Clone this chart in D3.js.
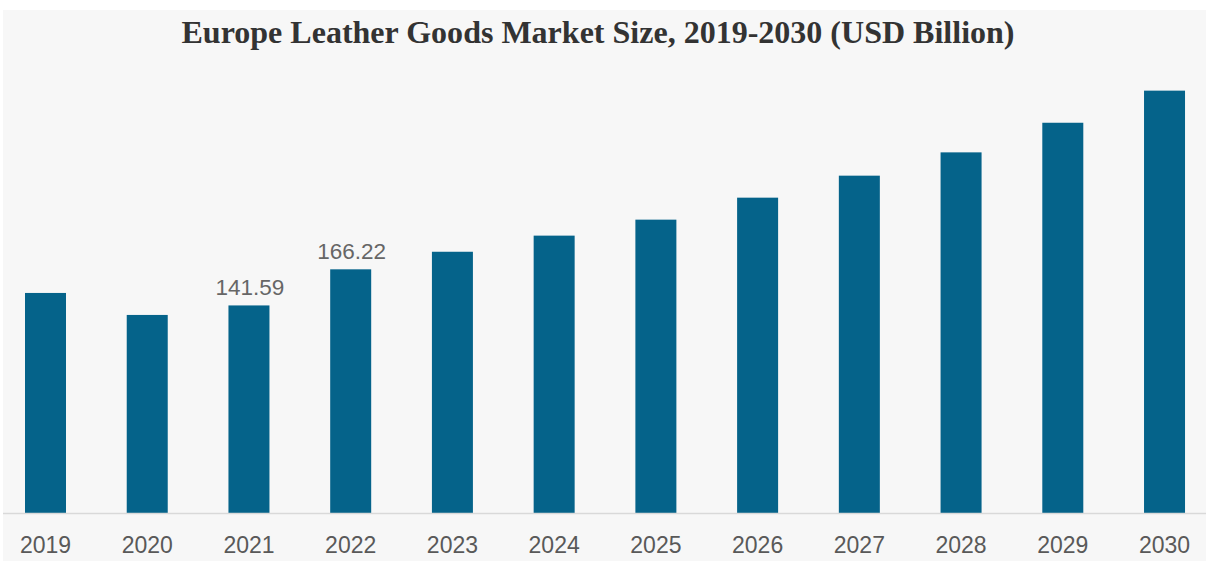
<!DOCTYPE html>
<html>
<head>
<meta charset="utf-8">
<script src="https://cdn.jsdelivr.net/npm/d3@7"></script>
<style>
  html, body { margin: 0; padding: 0; background: #ffffff; }
  svg { display: block; }
</style>
</head>
<body>
<svg id="chart" width="1206" height="561"></svg>
<script>
// Market size by year, USD billion
const years = ["2019", "2020", "2021", "2022", "2023", "2024", "2025", "2026", "2027", "2028", "2029", "2030"];
const values = [150.1, 135.1, 141.59, 166.22, 178.2, 189.2, 200.1, 215.1, 230.1, 246.0, 266.2, 288.1];
// Only these years carry a value label
const labelledYears = ["2021", "2022"];
const titleText = "Europe Leather Goods Market Size, 2019-2030 (USD Billion)";

const W = 1206, H = 561;
const svg = d3.select("#chart");

// light panel behind the chart
svg.append("rect")
  .attr("x", 3).attr("y", 10)
  .attr("width", W - 3).attr("height", H - 10)
  .attr("fill", "#f7f7f7");

const baseY = 513;
const step = 101.73;
const x = d3.scaleBand()
  .domain(years)
  .range([45.5 - step / 2, 45.5 - step / 2 + step * years.length])
  .paddingInner(0.597)
  .paddingOuter(0.2985);

const y = d3.scaleLinear()
  .domain([0, 300])
  .range([baseY, baseY - 300 * 1.466]);

// bars
svg.append("g")
  .selectAll("rect")
  .data(years)
  .join("rect")
  .attr("x", d => x(d))
  .attr("y", (d, i) => y(values[i]))
  .attr("width", x.bandwidth())
  .attr("height", (d, i) => y(0) - y(values[i]))
  .attr("fill", "#05638a");

// baseline axis with year labels
const xAxis = d3.axisBottom(x).tickSize(0).tickPadding(24);
const gx = svg.append("g")
  .attr("transform", `translate(0,${baseY})`)
  .call(xAxis);
gx.select(".domain").remove();
gx.selectAll("text")
  .attr("font-family", "'Liberation Sans', Arial, sans-serif")
  .attr("font-size", 23)
  .attr("fill", "#595959");

svg.append("line")
  .attr("x1", 3).attr("x2", W)
  .attr("y1", baseY + 0.5).attr("y2", baseY + 0.5)
  .attr("stroke", "#d9d9d9")
  .attr("stroke-width", 1.5);

// value labels
svg.append("g")
  .selectAll("text")
  .data(years.map((d, i) => ({ year: d, value: values[i] })).filter(d => labelledYears.includes(d.year)))
  .join("text")
  .attr("x", d => x(d.year) + x.bandwidth() / 2 + 1)
  .attr("y", d => y(d.value) - 10)
  .attr("text-anchor", "middle")
  .attr("font-family", "'Liberation Sans', Arial, sans-serif")
  .attr("font-size", 22.5)
  .attr("fill", "#666666")
  .text(d => d.value.toFixed(2));

// title
svg.append("text")
  .attr("x", 598)
  .attr("y", 43)
  .attr("text-anchor", "middle")
  .attr("font-family", "'Liberation Serif', 'Times New Roman', serif")
  .attr("font-weight", "bold")
  .attr("font-size", 31)
  .attr("textLength", 833)
  .attr("lengthAdjust", "spacingAndGlyphs")
  .attr("fill", "#333333")
  .text(titleText);
</script>
</body>
</html>
